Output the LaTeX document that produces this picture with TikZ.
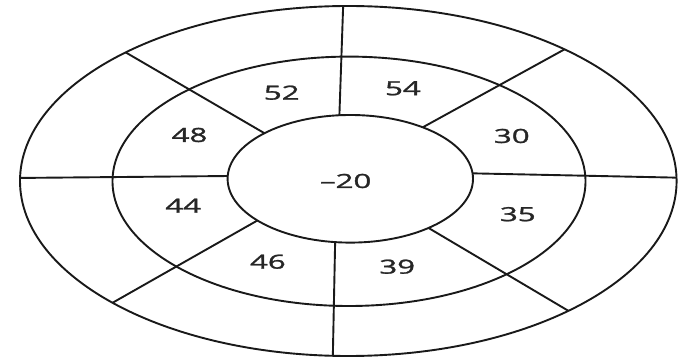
\documentclass[tikz,border=0pt]{standalone}
\usepackage{fontspec}
\setmainfont{Open Sans}
\newfontfamily\lblfont{Open Sans}[FakeBold=1.2]
\begin{document}
\begin{tikzpicture}[x=1pt,y=-1pt,
  ring/.style={line width=1.9pt,draw=black!90},
  spoke/.style={line width=1.9pt,draw=black!90},
  lbl/.style={font=\lblfont\fontsize{19.5}{19.5}\selectfont,text=black!85,inner sep=0pt,xscale=1.6}]
\useasboundingbox (0,0) rectangle (683,358);
% ellipses
\draw[ring] (348.3,181) ellipse [x radius=328.3pt, y radius=175pt];
\draw[ring] (349,181.3) ellipse [x radius=236.5pt, y radius=124.7pt];
\draw[ring] (350.3,178.8) ellipse [x radius=122.7pt, y radius=63.8pt];
% spoke end points on outer and inner ellipse
\foreach \n/\to/\ti in {top/-90.9/-95.1, ur/-48.8/-53.8, rt/-1.1/-4.9, lr/47.9/50.4,
                       bot/92.7/97.1, ll/135.9/139.2, lf/181/182.5, ul/227.3/225.6}{
  \coordinate (o\n) at ({348.3+328.3*cos(\to)},{181+175*sin(\to)});
  \coordinate (i\n) at ({350.3+122.7*cos(\ti)},{178.8+63.8*sin(\ti)});
}
\foreach \n in {top,ur,rt,lr,bot,ll,lf,ul}{
  \draw[spoke] (o\n) -- (i\n);
}
% labels
\node[lbl] (c)   at (345.7,181) {–20};
\node[lbl] (l52) at (281.7,92.7) {52};
\node[lbl] (l54) at (402.9,88.3) {54};
\node[lbl] (l48) at (189.5,135) {48};
\node[lbl] (l30) at (511.8,136) {30};
\node[lbl] (l44) at (183.2,205.7) {44};
\node[lbl] (l35) at (517.8,214.2) {35};
\node[lbl] (l46) at (267.9,261.7) {46};
\node[lbl] (l39) at (397.2,266.7) {39};
\end{tikzpicture}
\end{document}
